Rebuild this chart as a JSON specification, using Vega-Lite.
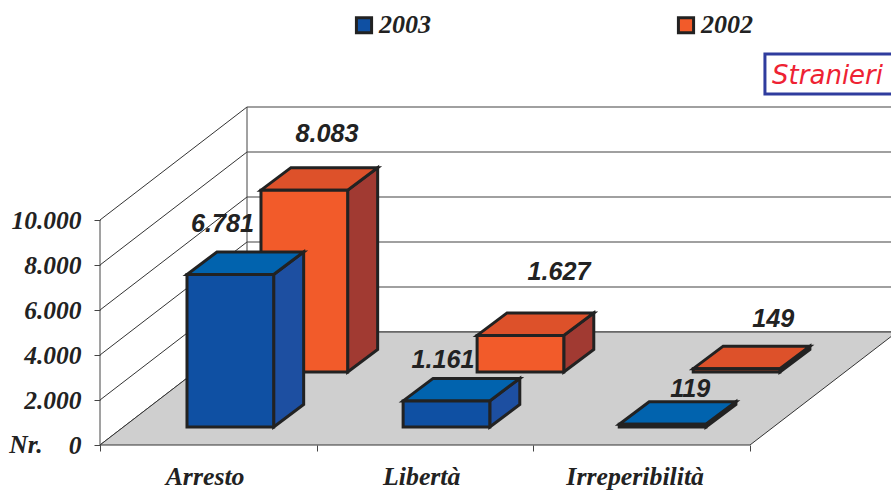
{"$schema":"https://vega.github.io/schema/vega-lite/v6.json","width":791,"height":445,"autosize":{"type":"none"},"padding":{"left":100,"top":0,"right":0,"bottom":45},"background":"white","datasets":{"bars":[{"cat":"Arresto","series":"2003","value":6781},{"cat":"Arresto","series":"2002","value":8083},{"cat":"Libertà","series":"2003","value":1161},{"cat":"Libertà","series":"2002","value":1627},{"cat":"Irreperibilità","series":"2003","value":119},{"cat":"Irreperibilità","series":"2002","value":149}],"ticks":[{"v":0},{"v":2000},{"v":4000},{"v":6000},{"v":8000},{"v":10000}],"cats":[{"cat":"Arresto","pos":0.485},{"cat":"Libertà","pos":1.485},{"cat":"Irreperibilità","pos":2.47}]},"data":{"name":"bars"},"transform":[{"calculate":"indexof(['Arresto','Libertà','Irreperibilità'],datum.cat)","as":"i"},{"calculate":"datum.series==='2002'?1:0","as":"k"},{"calculate":"0.4015+0.9975*datum.i+0.3415*datum.k","as":"x0"},{"calculate":"datum.x0+0.4","as":"x1"},{"calculate":"800+2444*datum.k","as":"base"},{"calculate":"datum.base+datum.value","as":"top"},{"calculate":"datum.x0+[35.5,66,40,82,71,80][datum.i*2+datum.k]/216.67","as":"lx"},{"calculate":"datum.top+[50,56,41,63,35,50][datum.i*2+datum.k]/0.0225","as":"ly"},{"calculate":"replace(format(datum.value,','),',','.')","as":"lab"},{"calculate":"[0,1]","as":"t"},{"flatten":["t"]},{"calculate":"datum.x1+datum.t*0.1385","as":"sx"},{"calculate":"datum.base+datum.t*1000","as":"sy"},{"calculate":"datum.top+datum.t*1000","as":"sy2"},{"calculate":"datum.x0+datum.t*0.1385","as":"tx0"},{"calculate":"datum.x1+datum.t*0.1385","as":"tx1"}],"layer":[{"data":{"name":"ticks"},"transform":[{"calculate":"datum.v+5022","as":"by"}],"mark":{"type":"rule","stroke":"#808080","strokeWidth":1.3},"encoding":{"x":{"datum":0.6785,"type":"quantitative","scale":{"domain":[0,3.6508],"nice":false,"zero":false},"axis":{"values":[0,1,2,3],"labels":false,"domain":false,"grid":false,"tickSize":6,"tickColor":"#444","tickWidth":1,"title":null}},"x2":{"datum":3.6508},"y":{"field":"by","type":"quantitative","scale":{"domain":[0,19778],"nice":false,"zero":false},"axis":{"values":[0,2000,4000,6000,8000,10000],"labelExpr":"replace(format(datum.value,','),',','.')","domain":false,"grid":false,"tickSize":6,"tickColor":"#444","tickWidth":1,"labelFont":"Liberation Serif","labelFontSize":25.5,"labelFontWeight":"bold","labelFontStyle":"italic","labelColor":"#222","labelPadding":13,"title":null}}}},{"data":{"name":"ticks"},"transform":[{"calculate":"datum.v+5022","as":"by"}],"mark":{"type":"rule","stroke":"#333","strokeWidth":1},"encoding":{"x":{"datum":0,"type":"quantitative","scale":{"domain":[0,3.6508],"nice":false,"zero":false},"axis":null},"x2":{"datum":0.6785},"y":{"field":"v","type":"quantitative","scale":{"domain":[0,19778],"nice":false,"zero":false},"axis":null},"y2":{"field":"by"}}},{"data":{"values":[{"part":"floor"}]},"transform":[{"calculate":"[0,1]","as":"t"},{"flatten":["t"]},{"calculate":"datum.t*5022","as":"fy"},{"calculate":"datum.t*0.6785","as":"fx"},{"calculate":"3+datum.t*0.6785","as":"fx2"}],"mark":{"type":"area","orient":"horizontal","fill":"#cfcfcf","stroke":"#333","strokeWidth":1},"encoding":{"y":{"field":"fy","type":"quantitative","scale":{"domain":[0,19778],"nice":false,"zero":false},"axis":null},"x":{"field":"fx","type":"quantitative","scale":{"domain":[0,3.6508],"nice":false,"zero":false},"axis":null},"x2":{"field":"fx2"}}},{"data":{"values":[{"part":"edge"}]},"mark":{"type":"rule","stroke":"#444","strokeWidth":1},"encoding":{"x":{"datum":0,"type":"quantitative","scale":{"domain":[0,3.6508],"nice":false,"zero":false},"axis":null},"y":{"datum":0,"type":"quantitative","scale":{"domain":[0,19778],"nice":false,"zero":false},"axis":null},"y2":{"datum":10000}}},{"data":{"values":[{"part":"edge"}]},"mark":{"type":"rule","stroke":"#444","strokeWidth":1},"encoding":{"x":{"datum":0.6785,"type":"quantitative","scale":{"domain":[0,3.6508],"nice":false,"zero":false},"axis":null},"y":{"datum":5022,"type":"quantitative","scale":{"domain":[0,19778],"nice":false,"zero":false},"axis":null},"y2":{"datum":15022}}},{"transform":[{"filter":"datum.k===1"}],"mark":{"type":"area","fill":"#a13a32","stroke":"#222","strokeWidth":3,"strokeJoin":"miter"},"encoding":{"detail":{"field":"cat"},"x":{"field":"sx","type":"quantitative","scale":{"domain":[0,3.6508],"nice":false,"zero":false},"axis":null},"y":{"field":"sy","type":"quantitative","scale":{"domain":[0,19778],"nice":false,"zero":false},"axis":null},"y2":{"field":"sy2"}}},{"transform":[{"filter":"datum.k===1"}],"mark":{"type":"area","orient":"horizontal","fill":"#dd512a","stroke":"#222","strokeWidth":3,"strokeJoin":"miter"},"encoding":{"detail":{"field":"cat"},"y":{"field":"sy2","type":"quantitative","scale":{"domain":[0,19778],"nice":false,"zero":false},"axis":null},"x":{"field":"tx0","type":"quantitative","scale":{"domain":[0,3.6508],"nice":false,"zero":false},"axis":null},"x2":{"field":"tx1"}}},{"transform":[{"filter":"datum.k===1&&datum.t===0"}],"mark":{"type":"rect","stroke":"#222","strokeWidth":3},"encoding":{"x":{"field":"x0","type":"quantitative","scale":{"domain":[0,3.6508],"nice":false,"zero":false},"axis":null},"x2":{"field":"x1"},"y":{"field":"top","type":"quantitative","scale":{"domain":[0,19778],"nice":false,"zero":false},"axis":null},"y2":{"field":"base"},"color":{"field":"series","type":"nominal","scale":{"domain":["2003","2002"],"range":["#0f50a3","#f25b2a"]},"legend":{"orient":"none","legendX":251,"legendY":12,"direction":"horizontal","title":null,"symbolType":"square","symbolSize":230,"symbolStrokeColor":"#222","symbolStrokeWidth":3,"labelFont":"Liberation Serif","labelFontSize":26,"labelFontWeight":"bold","labelFontStyle":"italic","labelColor":"#222","labelOffset":2,"columnPadding":241,"labelLimit":200}}}},{"transform":[{"filter":"datum.k===0"}],"mark":{"type":"area","fill":"#1d4fa1","stroke":"#222","strokeWidth":3,"strokeJoin":"miter"},"encoding":{"detail":{"field":"cat"},"x":{"field":"sx","type":"quantitative","scale":{"domain":[0,3.6508],"nice":false,"zero":false},"axis":null},"y":{"field":"sy","type":"quantitative","scale":{"domain":[0,19778],"nice":false,"zero":false},"axis":null},"y2":{"field":"sy2"}}},{"transform":[{"filter":"datum.k===0"}],"mark":{"type":"area","orient":"horizontal","fill":"#0163ae","stroke":"#222","strokeWidth":3,"strokeJoin":"miter"},"encoding":{"detail":{"field":"cat"},"y":{"field":"sy2","type":"quantitative","scale":{"domain":[0,19778],"nice":false,"zero":false},"axis":null},"x":{"field":"tx0","type":"quantitative","scale":{"domain":[0,3.6508],"nice":false,"zero":false},"axis":null},"x2":{"field":"tx1"}}},{"transform":[{"filter":"datum.k===0&&datum.t===0"}],"mark":{"type":"rect","stroke":"#222","strokeWidth":3},"encoding":{"x":{"field":"x0","type":"quantitative","scale":{"domain":[0,3.6508],"nice":false,"zero":false},"axis":null},"x2":{"field":"x1"},"y":{"field":"top","type":"quantitative","scale":{"domain":[0,19778],"nice":false,"zero":false},"axis":null},"y2":{"field":"base"},"color":{"field":"series","type":"nominal","scale":{"domain":["2003","2002"],"range":["#0f50a3","#f25b2a"]},"legend":{"orient":"none","legendX":251,"legendY":12,"direction":"horizontal","title":null,"symbolType":"square","symbolSize":230,"symbolStrokeColor":"#222","symbolStrokeWidth":3,"labelFont":"Liberation Serif","labelFontSize":26,"labelFontWeight":"bold","labelFontStyle":"italic","labelColor":"#222","labelOffset":2,"columnPadding":241,"labelLimit":200}}}},{"transform":[{"filter":"datum.t===0"}],"mark":{"type":"text","font":"Liberation Sans","fontSize":25.2,"fontWeight":"bold","fontStyle":"italic","fill":"#222","align":"center","baseline":"middle"},"encoding":{"x":{"field":"lx","type":"quantitative","scale":{"domain":[0,3.6508],"nice":false,"zero":false},"axis":null},"y":{"field":"ly","type":"quantitative","scale":{"domain":[0,19778],"nice":false,"zero":false},"axis":null},"text":{"field":"lab"}}},{"data":{"name":"cats"},"mark":{"type":"text","font":"Liberation Serif","fontSize":25.8,"fontWeight":"bold","fontStyle":"italic","fill":"#222","align":"center","baseline":"middle"},"encoding":{"x":{"field":"pos","type":"quantitative","scale":{"domain":[0,3.6508],"nice":false,"zero":false},"axis":null},"y":{"datum":-1422,"type":"quantitative","scale":{"domain":[0,19778],"nice":false,"zero":false},"axis":null},"text":{"field":"cat"}}},{"data":{"values":[{"label":"Nr."}]},"mark":{"type":"text","font":"Liberation Serif","fontSize":25.5,"fontWeight":"bold","fontStyle":"italic","fill":"#222","align":"center","baseline":"middle"},"encoding":{"x":{"datum":-0.342,"type":"quantitative","scale":{"domain":[0,3.6508],"nice":false,"zero":false},"axis":null},"y":{"datum":0,"type":"quantitative","scale":{"domain":[0,19778],"nice":false,"zero":false},"axis":null},"text":{"field":"label"}}},{"data":{"values":[{"label":"Stranieri"}]},"mark":{"type":"rect","fill":"white","stroke":"#2f3c9e","strokeWidth":3},"encoding":{"x":{"datum":3.069,"type":"quantitative","scale":{"domain":[0,3.6508],"nice":false,"zero":false},"axis":null},"x2":{"datum":3.7},"y":{"datum":17378,"type":"quantitative","scale":{"domain":[0,19778],"nice":false,"zero":false},"axis":null},"y2":{"datum":15600}}},{"data":{"values":[{"label":"Stranieri"}]},"mark":{"type":"text","font":"DejaVu Sans","fontSize":26,"fontStyle":"italic","fill":"#ee2233","align":"center","baseline":"middle"},"encoding":{"x":{"datum":3.358,"type":"quantitative","scale":{"domain":[0,3.6508],"nice":false,"zero":false},"axis":null},"y":{"datum":16420,"type":"quantitative","scale":{"domain":[0,19778],"nice":false,"zero":false},"axis":null},"text":{"field":"label"}}}],"resolve":{"scale":{"x":"shared","y":"shared"},"axis":{"x":"independent","y":"independent"}},"config":{"view":{"stroke":null}}}
